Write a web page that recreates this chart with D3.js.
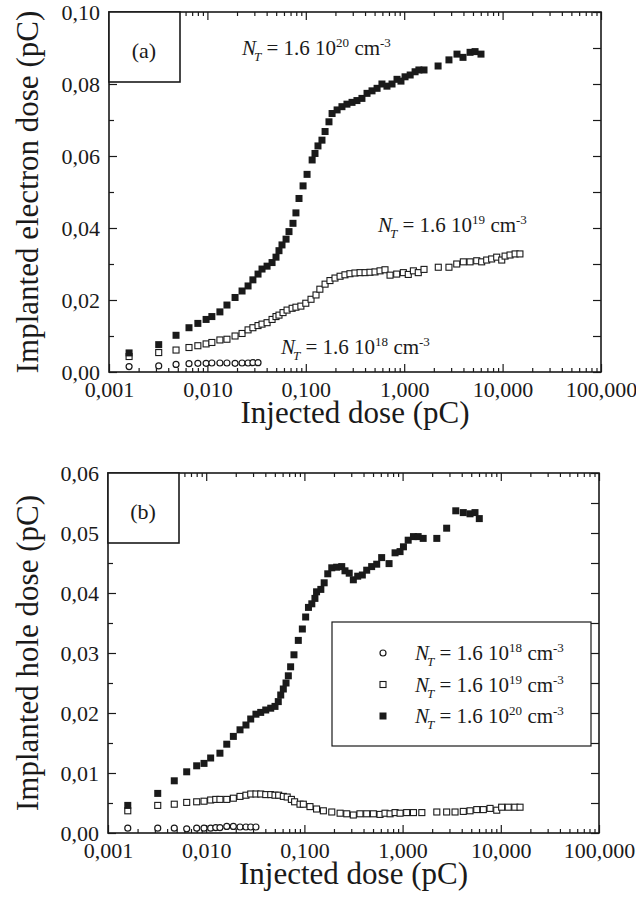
<!DOCTYPE html>
<html>
<head>
<meta charset="utf-8">
<title>Implanted dose vs injected dose</title>
<script src="https://cdn.jsdelivr.net/npm/d3@7"></script>
<style>
  body { margin: 0; background: #fff; }
  svg text { font-family: "Times New Roman", "Liberation Serif", Tinos, serif !important; fill: #1a1a1a; }
  .frame { fill: none; stroke: #1a1a1a; stroke-width: 1.6px; }
  .tag { fill: #fff; stroke: #1a1a1a; stroke-width: 1.6px; }
  .tick line { stroke: #1a1a1a; stroke-width: 1.2px; }
</style>
</head>
<body>
<script>
// ---- axis ticks
var xMajor = [0.001, 0.01, 0.1, 1, 10, 100];
var eYMajor = [0, 0.02, 0.04, 0.06, 0.08, 0.10];
var eYMinor = [0.01, 0.03, 0.05, 0.07, 0.09];
var hYMajor = [0, 0.01, 0.02, 0.03, 0.04, 0.05, 0.06];
var hYMinor = [0.005, 0.015, 0.025, 0.035, 0.045, 0.055];

// ---- (a) implanted electron dose
var e18X = [0.0016,0.0032,0.0048,0.0065,0.0080,0.0097,0.0111,0.0134,0.0158,0.0191,0.0225,0.0259,0.0290,0.0327];
var e18Y = [0.0015,0.0017,0.0021,0.0023,0.0024,0.0024,0.0025,0.0025,0.0025,0.0024,0.0025,0.0025,0.0026,0.0026];

var e19X = [0.0016,0.0032,0.0048,0.0065,0.0080,0.0097,0.0111,0.0134,0.0158,0.0191,0.0225,0.0259,0.0290,0.0327,0.0359,
            0.0404,0.0454,0.0498,0.0534,0.0587,0.0645,0.0726,0.0794,0.0891,0.100,0.113,0.127,0.139,0.157,0.176,
            0.198,0.223,0.250,0.281,0.316,0.356,0.400,0.449,0.505,0.568,0.638,0.718,0.839,0.980,1.10,
            1.24,1.39,1.59,2.22,2.85,3.42,3.99,4.67,5.46,6.13,6.89,7.74,8.71,9.80,10.6,11.9,13.4,15.0];
var e19Y = [0.0043,0.0054,0.0061,0.0068,0.0073,0.0078,0.0082,0.0089,0.0091,0.0100,0.0107,0.0117,0.0123,0.0129,0.0133,
            0.0137,0.0146,0.0154,0.0158,0.0165,0.0172,0.0177,0.0180,0.0183,0.0191,0.0202,0.0214,0.0230,0.0244,0.0254,
            0.0261,0.0266,0.0270,0.0273,0.0275,0.0276,0.0276,0.0277,0.0278,0.0281,0.0284,0.0269,0.0272,0.0276,0.0271,
            0.0281,0.0276,0.0285,0.0291,0.0291,0.0300,0.0306,0.0306,0.0309,0.0306,0.0311,0.0314,0.0319,0.0311,0.0322,0.0325,0.0328,0.0328];

var e20X = [0.0016,0.0032,0.0048,0.0065,0.0080,0.0097,0.0111,0.0134,0.0158,0.0191,0.0225,0.0259,0.0290,0.0327,0.0359,
            0.0404,0.0454,0.0498,0.0534,0.0573,0.0630,0.0675,0.0741,0.0794,0.0853,0.0938,0.103,0.116,0.124,0.133,
            0.146,0.157,0.172,0.185,0.208,0.233,0.262,0.295,0.331,0.372,0.419,0.471,0.530,0.594,0.668,
            0.752,0.845,0.927,1.02,1.15,1.29,1.41,1.59,2.21,2.85,3.44,3.96,4.67,5.25,6.03];
var e20Y = [0.0053,0.0076,0.0102,0.0123,0.0135,0.0146,0.0154,0.0167,0.0186,0.0207,0.0225,0.0239,0.0256,0.0272,0.0286,
            0.0294,0.0304,0.0319,0.0337,0.0353,0.0369,0.0390,0.0413,0.0442,0.0482,0.0517,0.0549,0.0589,0.0607,0.0628,
            0.0644,0.0668,0.0695,0.0718,0.0728,0.0737,0.0744,0.0749,0.0754,0.0760,0.0774,0.0781,0.0788,0.0800,0.0794,
            0.0800,0.0813,0.0808,0.0820,0.0825,0.0834,0.0839,0.0839,0.0850,0.0867,0.0883,0.0874,0.0888,0.0890,0.0883];

// ---- (b) implanted hole dose
var h18X = [0.00159,0.00321,0.00473,0.00633,0.0080,0.0095,0.0111,0.0125,0.0138,0.0162,0.0189,0.0221,0.0254,0.0284,0.0321];
var h18Y = [0.0008,0.0008,0.0008,0.0007,0.0008,0.0008,0.0008,0.0009,0.0009,0.0011,0.0011,0.0010,0.0010,0.0010,0.0010];

var h19X = [0.00159,0.00321,0.00473,0.00633,0.0080,0.0095,0.0111,0.0125,0.0138,0.0162,0.0189,0.0221,0.0254,0.0284,0.0321,
            0.0359,0.0404,0.0454,0.0502,0.0547,0.0610,0.0668,0.0737,0.0795,0.0902,0.0975,0.114,0.133,0.156,0.190,
            0.231,0.270,0.315,0.368,0.431,0.504,0.589,0.662,0.745,0.838,0.942,1.10,1.29,1.57,2.23,
            2.81,3.42,4.15,4.86,5.69,6.64,7.77,9.09,10.2,11.9,13.9,15.7];
var h19Y = [0.0037,0.0046,0.0048,0.0051,0.0052,0.0053,0.0055,0.0056,0.0056,0.0056,0.0058,0.0061,0.0063,0.0065,0.0065,
            0.0065,0.0064,0.0064,0.0063,0.0063,0.0061,0.0060,0.0056,0.0052,0.0048,0.0048,0.0044,0.0040,0.0037,0.0035,
            0.0033,0.0032,0.0030,0.0032,0.0032,0.0032,0.0031,0.0033,0.0032,0.0034,0.0033,0.0034,0.0034,0.0034,0.0035,
            0.0035,0.0035,0.0036,0.0037,0.0039,0.0039,0.0041,0.0038,0.0043,0.0043,0.0043,0.0043];

var h20X = [0.00159,0.00321,0.00473,0.00633,0.0080,0.0095,0.0111,0.0138,0.0162,0.0189,0.0221,0.0254,0.0284,0.0321,0.0359,
            0.0404,0.0454,0.0502,0.0542,0.0574,0.0610,0.0650,0.0686,0.0724,0.0783,0.0867,0.0953,0.103,0.110,0.119,
            0.128,0.133,0.147,0.159,0.173,0.190,0.213,0.240,0.259,0.286,0.315,0.349,0.389,0.431,0.484,
            0.545,0.612,0.728,0.838,0.942,1.02,1.14,1.29,1.44,1.62,2.23,2.81,3.48,4.15,4.86,5.46,6.04];
var h20Y = [0.0046,0.0066,0.0087,0.0102,0.0112,0.0116,0.0125,0.0133,0.0148,0.0161,0.0172,0.0180,0.0190,0.0198,0.0201,
            0.0205,0.0208,0.0211,0.0219,0.0230,0.0240,0.0250,0.0262,0.0277,0.0297,0.0321,0.0340,0.0360,0.0376,0.0382,
            0.0391,0.0402,0.0406,0.0417,0.0432,0.0442,0.0443,0.0444,0.0437,0.0433,0.0422,0.0428,0.0430,0.0438,0.0444,
            0.0448,0.0459,0.0449,0.0467,0.0469,0.0477,0.0488,0.0494,0.0494,0.0491,0.0491,0.0508,0.0537,0.0534,0.0532,0.0534,0.0524];

var W = 636, H = 903;
var FONT = '"Times New Roman", "Liberation Serif", Tinos, serif';
var svg = d3.select("body").append("svg").attr("width", W).attr("height", H)
  .attr("font-family", FONT);

var comma = d3.formatLocale({decimal: ",", thousands: ".", grouping: [3], currency: ["", ""]});
var fmtX = comma.format(".3f"), fmtY = comma.format(".2f");

// minor ticks 2..9 in each decade
var xMinor = [];
for (var k = 0; k < xMajor.length - 1; k++)
  for (var m = 2; m < 10; m++) xMinor.push(xMajor[k] * m);

// N_T = 1.6 10^e cm^-3 with italic N, subscript T and superscripts
function ntText(g, x, y, e, size) {
  var t = g.append("text").attr("x", x).attr("y", y).style("font-size", size + "px");
  t.append("tspan").style("font-style", "italic").text("N");
  t.append("tspan").style("font-style", "italic").style("font-size", (size * 0.62) + "px")
    .attr("dx", -2).attr("dy", size * 0.3).text("T");
  t.append("tspan").attr("dy", -size * 0.3).text(" = 1.6 10");
  t.append("tspan").style("font-size", (size * 0.62) + "px").attr("dy", -size * 0.38).text(e);
  t.append("tspan").attr("dy", size * 0.38).text(" cm");
  t.append("tspan").style("font-size", (size * 0.62) + "px").attr("dy", -size * 0.38).text("-3");
  return t;
}

function marker(g, kind, x, y) {
  if (kind == "circle")
    g.append("circle").attr("cx", x).attr("cy", y).attr("r", 3)
      .attr("fill", "#fff").attr("stroke", "#1a1a1a").attr("stroke-width", 1.2);
  else if (kind == "open")
    g.append("rect").attr("x", x - 3).attr("y", y - 3).attr("width", 6).attr("height", 6)
      .attr("fill", "#fff").attr("stroke", "#1a1a1a").attr("stroke-width", 1.1);
  else
    g.append("rect").attr("x", x - 3.5).attr("y", y - 3.5).attr("width", 7).attr("height", 7)
      .attr("fill", "#1a1a1a");
}

function panel(p) {
  var x = d3.scaleLog().domain([0.001, 100]).range([p.left, p.right]);
  var y = d3.scaleLinear().domain([0, p.ymax]).range([p.bottom, p.top]);
  var g = svg.append("g");

  function ax(gen, tr, vals, size, fmt, pad) {
    var a = gen.tickValues(vals).tickSizeInner(-size).tickSizeOuter(0).tickPadding(pad || 3)
      .tickFormat(fmt || "");
    var s = g.append("g").attr("transform", tr).call(a).attr("font-family", FONT);
    s.select(".domain").remove();
    if (fmt) s.selectAll("text").style("font-size", "22px").attr("fill", "#1a1a1a");
    else s.selectAll("text").remove();   // tick marks only
    return s;
  }
  ax(d3.axisBottom(x), "translate(0," + p.bottom + ")", xMajor, 8, fmtX, 9);
  ax(d3.axisBottom(x), "translate(0," + p.bottom + ")", xMinor, 4);
  ax(d3.axisTop(x), "translate(0," + p.top + ")", xMajor, 8);
  ax(d3.axisTop(x), "translate(0," + p.top + ")", xMinor, 4);
  ax(d3.axisLeft(y), "translate(" + p.left + ",0)", p.yMajor, 8, fmtY, 9);
  ax(d3.axisLeft(y), "translate(" + p.left + ",0)", p.yMinor, 5);
  ax(d3.axisRight(y), "translate(" + p.right + ",0)", p.yMajor, 8);
  ax(d3.axisRight(y), "translate(" + p.right + ",0)", p.yMinor, 8);

  g.append("rect").attr("class", "frame")
    .attr("x", p.left).attr("y", p.top)
    .attr("width", p.right - p.left).attr("height", p.bottom - p.top);

  // panel tag
  g.append("rect").attr("class", "tag").attr("x", p.left).attr("y", p.top).attr("width", 71).attr("height", 70);
  g.append("text").attr("x", p.left + 35).attr("y", p.top + 46).attr("text-anchor", "middle")
    .style("font-size", "22px").text(p.tag);

  // axis titles
  g.append("text").attr("x", (p.left + p.right) / 2).attr("y", p.bottom + 51)
    .attr("text-anchor", "middle").style("font-size", "31px").text("Injected dose (pC)");
  g.append("text").attr("transform", "translate(38," + ((p.top + p.bottom) / 2) + ") rotate(-90)")
    .attr("text-anchor", "middle").style("font-size", "31px").text(p.ytitle);

  p.series.forEach(function (s) {
    var sg = g.append("g");
    s.xs.forEach(function (v, i) { marker(sg, s.kind, x(v), y(s.ys[i])); });
  });
  return g;
}

var ga = panel({
  left: 109, right: 601, top: 12, bottom: 372, ymax: 0.10,
  yMajor: eYMajor, yMinor: eYMinor, tag: "(a)",
  ytitle: "Implanted electron dose (pC)",
  series: [
    {kind: "circle", xs: e18X, ys: e18Y},
    {kind: "open", xs: e19X, ys: e19Y},
    {kind: "filled", xs: e20X, ys: e20Y}
  ]
});
ntText(ga, 242, 55, "20", 21);
ntText(ga, 378, 232, "19", 21);
ntText(ga, 281, 354, "18", 21);

var gb = panel({
  left: 108, right: 599, top: 473, bottom: 833, ymax: 0.06,
  yMajor: hYMajor, yMinor: hYMinor, tag: "(b)",
  ytitle: "Implanted hole dose (pC)",
  series: [
    {kind: "circle", xs: h18X, ys: h18Y},
    {kind: "open", xs: h19X, ys: h19Y},
    {kind: "filled", xs: h20X, ys: h20Y}
  ]
});

// legend of panel (b)
var legExp = ["18", "19", "20"], legKind = ["circle", "open", "filled"];
var leg = gb.append("g");
leg.append("rect").attr("x", 332).attr("y", 622).attr("width", 259).attr("height", 124)
  .attr("fill", "#fff").attr("stroke", "#1a1a1a").attr("stroke-width", 1.2);
legExp.forEach(function (e, i) {
  var cy = 653 + i * 31.5;
  marker(leg, legKind[i], 383, cy);
  ntText(leg, 415, cy + 7, e, 21);
});
</script>
</body>
</html>
